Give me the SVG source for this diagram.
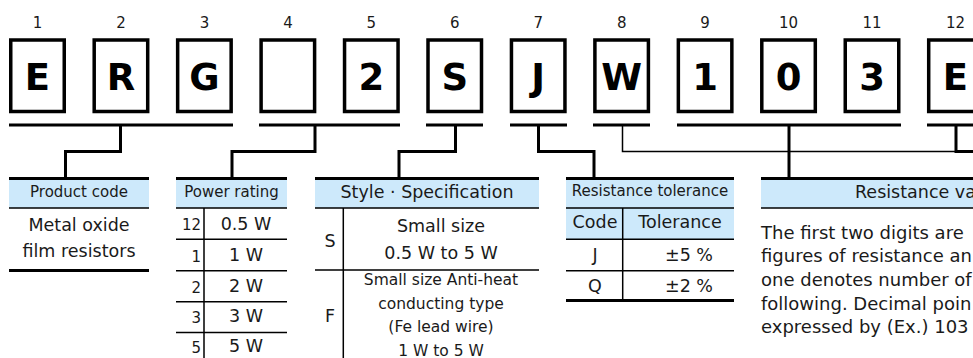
<svg xmlns="http://www.w3.org/2000/svg" width="973" height="358" viewBox="0 0 973 358">
<style>
text{font-family:"DejaVu Sans",Verdana,sans-serif;fill:#1a1a1a}
.num{font-size:15px;text-anchor:middle}
.big{font-size:37px;font-weight:bold;text-anchor:middle;fill:#000}
.box{fill:#fff;stroke:#000;stroke-width:3.5}
.bar{stroke:#000;stroke-width:3;fill:none}
.thin{stroke:#000;stroke-width:1.5;fill:none}
.hd{fill:#cde9fb}
.c{text-anchor:middle}
.s15{font-size:15px}
.s17{font-size:17.5px}
.s18{font-size:18px}
.s155{font-size:15.5px}
</style>
<g id="digits">
<g id="d1"><text class="num" x="37.5" y="28">1</text><rect class="box" x="10.75" y="40" width="53.5" height="71.5"/><text class="big" x="37.5" y="90">E</text></g>
<g id="d2"><text class="num" x="121" y="28">2</text><rect class="box" x="94.2" y="40" width="53.5" height="71.5"/><text class="big" x="121" y="90">R</text></g>
<g id="d3"><text class="num" x="204.4" y="28">3</text><rect class="box" x="177.65" y="40" width="53.5" height="71.5"/><text class="big" x="204.4" y="90">G</text></g>
<g id="d4"><text class="num" x="287.9" y="28">4</text><rect class="box" x="261.1" y="40" width="53.5" height="71.5"/></g>
<g id="d5"><text class="num" x="371.3" y="28">5</text><rect class="box" x="344.55" y="40" width="53.5" height="71.5"/><text class="big" x="371.3" y="90">2</text></g>
<g id="d6"><text class="num" x="454.8" y="28">6</text><rect class="box" x="428" y="40" width="53.5" height="71.5"/><text class="big" x="454.8" y="90">S</text></g>
<g id="d7"><text class="num" x="538.2" y="28">7</text><rect class="box" x="511.45" y="40" width="53.5" height="71.5"/><text class="big" x="538.2" y="90">J</text></g>
<g id="d8"><text class="num" x="621.7" y="28">8</text><rect class="box" x="594.9" y="40" width="53.5" height="71.5"/><text class="big" x="621.7" y="90">W</text></g>
<g id="d9"><text class="num" x="705.1" y="28">9</text><rect class="box" x="678.35" y="40" width="53.5" height="71.5"/><text class="big" x="705.1" y="90">1</text></g>
<g id="d10"><text class="num" x="788.6" y="28">10</text><rect class="box" x="761.8" y="40" width="53.5" height="71.5"/><text class="big" x="788.6" y="90">0</text></g>
<g id="d11"><text class="num" x="872" y="28">11</text><rect class="box" x="845.25" y="40" width="53.5" height="71.5"/><text class="big" x="872" y="90">3</text></g>
<g id="d12"><text class="num" x="955.5" y="28">12</text><rect class="box" x="928.7" y="40" width="53.5" height="71.5"/><text class="big" x="955.5" y="90">E</text></g>
</g>
<g id="connectors">
<path class="bar" d="M9,125H233M259,125H400M426,125H483M510,125H567M593,125H650M677,125H901M927,125H975"/>
<path class="bar" d="M120.5,125V151.5H65.5V179.5"/>
<path class="bar" d="M315,125V151.5H232V179.5"/>
<path class="bar" d="M455.5,125V151.5H399V179.5"/>
<path class="bar" d="M538.5,125V151.5H594V179.5"/>
<path class="thin" d="M622.5,125V151.5H956"/>
<path class="bar" d="M789,125V179.5"/>
<path class="bar" d="M956,125V151.5H975"/>
</g>
<g id="product-code">
<rect class="hd" x="9" y="178" width="140" height="30"/>
<path class="bar" d="M9,178.5H149M9,270.5H149"/>
<path class="thin" d="M9,208H149"/>
<text class="c s15" x="79" y="197">Product code</text>
<text class="c s17" x="79" y="231">Metal oxide</text>
<text class="c s17" x="79" y="257">film resistors</text>
</g>
<g id="power-rating">
<rect class="hd" x="176" y="178" width="111" height="30"/>
<path class="bar" d="M176,178.5H287"/>
<path class="thin" d="M176,208H287M176,239.3H287M176,270.7H287M176,301.7H287M176,332.5H287M204,208V358"/>
<text class="c s15" x="231.5" y="197">Power rating</text>
<g class="s15" text-anchor="end"><text x="201" y="230">12</text><text x="201" y="262">1</text><text x="201" y="292.5">2</text><text x="201" y="323">3</text><text x="201" y="353">5</text></g>
<g class="s17 c"><text x="246" y="229.5">0.5 W</text><text x="246" y="261">1 W</text><text x="246" y="292">2 W</text><text x="246" y="322">3 W</text><text x="246" y="352">5 W</text></g>
</g>
<g id="style-spec">
<rect class="hd" x="315" y="178" width="224" height="30"/>
<path class="bar" d="M315,178.5H539"/>
<path class="thin" d="M315,208H539M315,270H539M343.3,208V358"/>
<text class="c s17" x="427" y="198">Style · Specification</text>
<text class="c s17" x="330" y="247">S</text>
<text class="c s17" x="441" y="232">Small size</text>
<text class="c s17" x="441" y="258.5">0.5 W to 5 W</text>
<text class="c s17" x="330" y="322">F</text>
<g class="c s155"><text x="441" y="285">Small size Anti-heat</text><text x="441" y="308.5">conducting type</text><text x="441" y="332">(Fe lead wire)</text><text x="441" y="355.5">1 W to 5 W</text></g>
</g>
<g id="tolerance">
<rect class="hd" x="566" y="178" width="168" height="61"/>
<path class="bar" d="M566,178.5H734M566,300.5H734"/>
<path class="thin" d="M566,208H734M566,239.3H734M566,270.7H734M622.7,208V300"/>
<text class="c s15" x="650" y="196">Resistance tolerance</text>
<text class="c s17" x="595" y="228">Code</text>
<text class="c s17" x="680" y="228">Tolerance</text>
<text class="c s17" x="595" y="261">J</text>
<text class="c s17" x="689" y="261">±5 %</text>
<text class="c s17" x="595" y="292">Q</text>
<text class="c s17" x="689" y="292">±2 %</text>
</g>
<g id="resistance-value">
<rect class="hd" x="761" y="178" width="212" height="30"/>
<path class="bar" d="M761,178.5H973"/>
<path class="thin" d="M761,208H973"/>
<text class="s17" x="855" y="198">Resistance va</text>
<g class="s18"><text x="761" y="238.5">The first two digits are</text><text x="761" y="262">figures of resistance an</text><text x="761" y="285.5">one denotes number of</text><text x="761" y="309.5">following. Decimal poin</text><text x="761" y="333">expressed by (Ex.) 103</text></g>
</g>
</svg>
